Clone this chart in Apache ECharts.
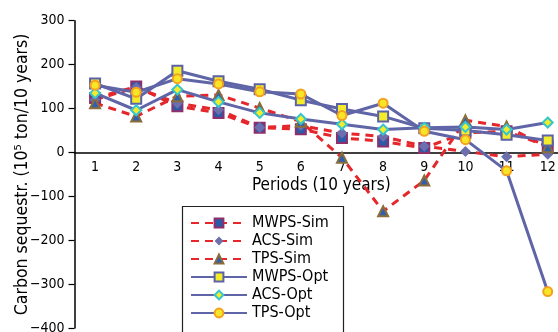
<!DOCTYPE html>
<html>
<head>
<meta charset="utf-8">
<script src="https://cdn.jsdelivr.net/npm/echarts@6/dist/echarts.min.js"></script>
<style>html,body{margin:0;padding:0;background:#fff;}#c{width:558px;height:332px;}</style>
</head>
<body>
<div id="c"></div>
<script>
const periods = ['1','2','3','4','5','6','7','8','9','10','11','12'];
const mwpsSim = [124, 150, 105, 90, 56, 53, 33, 25, 10, 45, 48, 14];
const acsSim  = [120, 148, 112, 97, 57, 61, 44, 36, 14, 2, -10, -4];
const tpsSim  = [112, 82, 128, 131, 101, 70, -12, -134, -64, 73, 59, 12];
const mwpsOpt = [157, 122, 186, 162, 144, 119, 99, 82, 55, 50, 40, 27];
const acsOpt  = [135, 96, 143, 115, 90, 76, 64, 52, 56, 58, 52, 68];
const tpsOpt  = [153, 137, 168, 156, 138, 133, 84, 112, 48, 29, -42, -317];
const seriesNames = ['MWPS-Sim','ACS-Sim','TPS-Sim','MWPS-Opt','ACS-Opt','TPS-Opt'];
const yMin = -400, yMax = 300, yStep = 100;

const FONT = "'DejaVu Sans Condensed', 'DejaVu Sans', sans-serif";
const RED = '#e5262b', BLUE = '#5f65a6';

function simLine(name, data, symbol, size, color, border, bw) {
  return {
    name, type: 'line', data, symbol, symbolSize: size,
    lineStyle: { color: RED, width: 3, type: [8, 6] },
    itemStyle: { color, borderColor: border, borderWidth: bw },
    z: 2
  };
}
function optLine(name, data, symbol, size, color, border, bw) {
  return {
    name, type: 'line', data, symbol, symbolSize: size,
    lineStyle: { color: BLUE, width: 3, type: 'solid' },
    itemStyle: { color, borderColor: border, borderWidth: bw },
    z: 3
  };
}

const gridTop = 20.7, gridBottom = 4, H = 332;
const plotH = H - gridTop - gridBottom;
// shift the x axis from the grid bottom up to the zero line
const zeroOffset = -plotH * (0 - yMin) / (yMax - yMin);

const chart = echarts.init(document.getElementById('c'));
chart.setOption({
  animation: false,
  backgroundColor: '#fff',
  grid: { left: 74.5, right: -10.3, top: gridTop, bottom: gridBottom, containLabel: false, outerBoundsMode: 'none' },
  xAxis: {
    type: 'category', data: periods, boundaryGap: true,
    offset: zeroOffset,
    axisLine: { onZero: false, lineStyle: { color: '#000', width: 1.5 } },
    axisTick: { show: false },
    axisLabel: { color: '#000', fontFamily: FONT, fontSize: 14, margin: 8 },
    name: 'Periods (10 years)', nameLocation: 'middle', nameGap: 25, nameMoveOverlap: false,
    nameTextStyle: { color: '#000', fontFamily: FONT, fontSize: 17 }
  },
  yAxis: {
    type: 'value', min: yMin, max: yMax, interval: yStep,
    splitLine: { show: false },
    axisLine: { show: true, lineStyle: { color: '#000', width: 1.5 } },
    axisTick: { show: true, length: 6, lineStyle: { color: '#000', width: 1.2 } },
    axisLabel: { color: '#000', fontFamily: FONT, fontSize: 14, margin: 10,
      formatter: v => v < 0 ? '\u2212' + Math.abs(v) : String(v) },
    name: 'Carbon sequestr. (10\u2075 ton/10 years)',
    nameLocation: 'middle', nameGap: 43, nameRotate: 90, nameMoveOverlap: false,
    nameTextStyle: { color: '#000', fontFamily: FONT, fontSize: 17.5 }
  },
  legend: {
    data: seriesNames, orient: 'vertical', left: 180, top: 204,
    padding: [10, 10, 10, 10], itemWidth: 56, itemHeight: 11, itemGap: 0,
    textStyle: { color: '#000', fontFamily: FONT, fontSize: 16, lineHeight: 18 }
  },
  graphic: [{
    type: 'rect', left: 180, top: 204, z: 100,
    shape: { x: 0, y: 0, width: 161, height: 140 },
    style: { fill: 'none', stroke: '#222', lineWidth: 1.2 }
  }],
  series: [
    simLine('MWPS-Sim', mwpsSim, 'rect', 10, '#2b5aa8', '#8e2f6b', 2),
    simLine('ACS-Sim', acsSim, 'diamond', 11, '#6b6fae', '#6b6fae', 0),
    simLine('TPS-Sim', tpsSim, 'triangle', 10, '#2f5fb0', '#8a6d3b', 2),
    optLine('MWPS-Opt', mwpsOpt, 'rect', 10, '#f2ec2a', '#5c62a8', 2),
    optLine('ACS-Opt', acsOpt, 'diamond', 10, '#f2ec2a', '#35c5cf', 2),
    optLine('TPS-Opt', tpsOpt, 'circle', 9, '#f7e528', '#f5a11f', 2)
  ]
});
</script>
</body>
</html>
